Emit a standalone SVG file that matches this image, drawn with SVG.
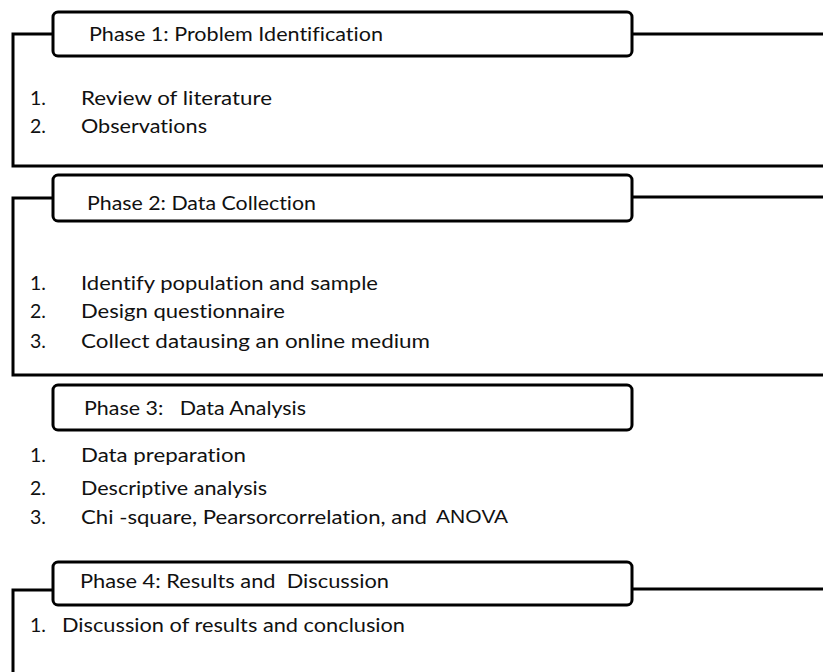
<svg xmlns="http://www.w3.org/2000/svg" width="823" height="672" viewBox="0 0 823 672">
<style>
.tab{fill:#fff;stroke:#000;stroke-width:3}
.ln{fill:none;stroke:#000;stroke-width:3}
text{font-family:Lato,"Open Sans","Liberation Sans",sans-serif;font-size:19.5px;fill:#111;font-variant-ligatures:none}
.arial{font-family:"Liberation Sans",Arial,sans-serif;font-size:18px}
</style>
<rect width="823" height="672" fill="#fff"/>
<g id="connectors">
<path class="ln" d="M53,34 H13 V166 H823"/>
<path class="ln" d="M632,34 H823"/>
<path class="ln" d="M53,198 H13 V375 H823"/>
<path class="ln" d="M632,197 H823"/>
<path class="ln" d="M53,590 H13 V672"/>
<path class="ln" d="M632,589 H823"/>
</g>
<g id="phase1">
<rect class="tab" x="53" y="12" width="579" height="44" rx="5"/>
<text x="89" y="41" textLength="294" lengthAdjust="spacingAndGlyphs">Phase 1: Problem Identification</text>
<text x="30" y="105">1.</text>
<text x="81" y="105" textLength="191" lengthAdjust="spacingAndGlyphs">Review of literature</text>
<text x="30" y="133">2.</text>
<text x="81" y="133" textLength="126" lengthAdjust="spacingAndGlyphs">Observations</text>
</g>
<g id="phase2">
<rect class="tab" x="53" y="175" width="579" height="46" rx="5"/>
<text x="87" y="210" textLength="229" lengthAdjust="spacingAndGlyphs">Phase 2: Data Collection</text>
<text x="30" y="290">1.</text>
<text x="81" y="290" textLength="297" lengthAdjust="spacingAndGlyphs">Identify population and sample</text>
<text x="30" y="318">2.</text>
<text x="81" y="318" textLength="204" lengthAdjust="spacingAndGlyphs">Design questionnaire</text>
<text x="30" y="348">3.</text>
<text x="81" y="348" textLength="349" lengthAdjust="spacingAndGlyphs">Collect datausing an online medium</text>
</g>
<g id="phase3">
<rect class="tab" x="53" y="385" width="579" height="45" rx="5"/>
<text x="84" y="415" textLength="222" lengthAdjust="spacingAndGlyphs" xml:space="preserve">Phase 3:   Data Analysis</text>
<text x="30" y="462">1.</text>
<text x="81" y="462" textLength="165" lengthAdjust="spacingAndGlyphs">Data preparation</text>
<text x="30" y="495">2.</text>
<text x="81" y="495" textLength="186" lengthAdjust="spacingAndGlyphs">Descriptive analysis</text>
<text x="30" y="524">3.</text>
<text x="81" y="524" textLength="346" lengthAdjust="spacingAndGlyphs">Chi -square, Pearsorcorrelation, and</text>
<text class="arial" x="436" y="523" textLength="72" lengthAdjust="spacingAndGlyphs">ANOVA</text>
</g>
<g id="phase4">
<rect class="tab" x="53" y="562" width="579" height="43" rx="5"/>
<text x="80" y="588" textLength="309" lengthAdjust="spacingAndGlyphs" xml:space="preserve">Phase 4: Results and  Discussion</text>
<text x="30" y="632">1.</text>
<text x="62" y="632" textLength="343" lengthAdjust="spacingAndGlyphs">Discussion of results and conclusion</text>
</g>
</svg>
